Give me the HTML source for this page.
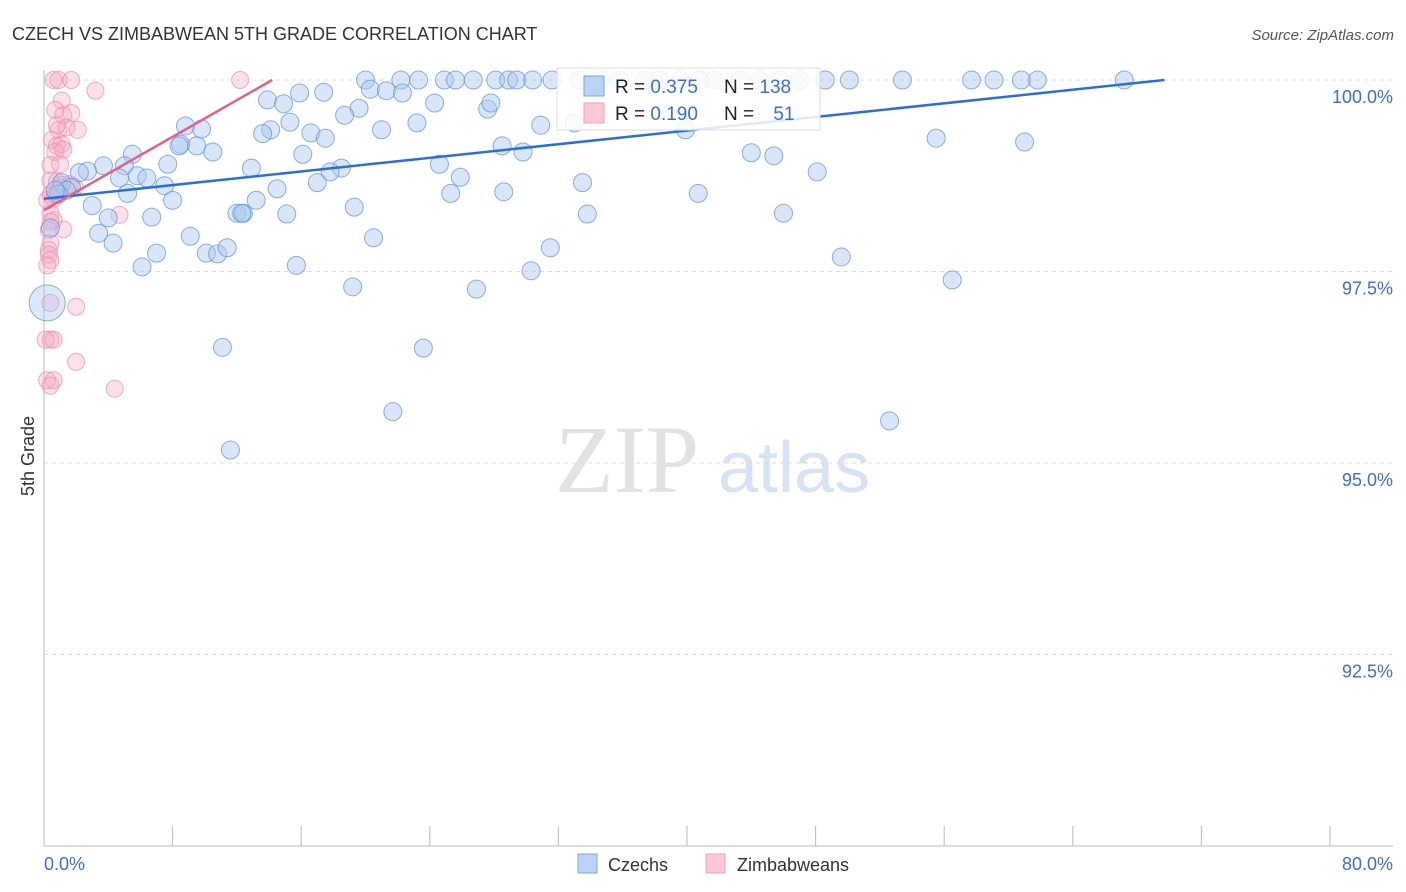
<!DOCTYPE html>
<html><head><meta charset="utf-8"><style>
body{margin:0;background:#fff;font-family:"Liberation Sans",sans-serif}
svg{display:block}
</style></head><body>
<svg id="chart" width="1406" height="892">
<text x="12" y="40" font-size="18" fill="#333">CZECH VS ZIMBABWEAN 5TH GRADE CORRELATION CHART</text>
<text x="1394" y="40" font-size="15" fill="#555" font-style="italic" text-anchor="end">Source: ZipAtlas.com</text>
<g>
<text x="555" y="492" font-size="96" font-family="Liberation Serif,serif" fill="#e2e2e2">ZIP</text>
<text x="718" y="492" font-size="72" fill="#d6e3f5">atlas</text>
</g>
<g id="grid"></g>
<g id="axes"></g>
<g id="pts"></g>
<g id="trend"></g>
<text transform="translate(34,456) rotate(-90)" font-size="18" fill="#333" text-anchor="middle">5th Grade</text>
<g>
<rect x="557" y="68" width="263" height="62" fill="#fff" fill-opacity="0.85" stroke="#ddd"/>
<rect x="584" y="76" width="20" height="20" fill="#b8d3f5" stroke="#7aa6e0"/>
<rect x="584" y="103" width="20" height="20" fill="#fbc8d6" stroke="#f0a0b8"/>
<text x="615" y="93" font-size="19" fill="#222">R = <tspan fill="#3a6fd0">0.375</tspan></text>
<text x="724" y="93" font-size="19" fill="#222">N = <tspan fill="#3a6fd0">138</tspan></text>
<text x="615" y="120" font-size="19" fill="#222">R = <tspan fill="#3a6fd0">0.190</tspan></text>
<text x="724" y="120" font-size="19" fill="#222">N = <tspan fill="#3a6fd0" dx="14">51</tspan></text>
</g>
<g>
<rect x="578" y="854" width="19" height="19" fill="#b8d3f5" stroke="#7aa6e0"/>
<text x="608" y="871" font-size="18" fill="#333">Czechs</text>
<rect x="706" y="854" width="19" height="19" fill="#fbc8d6" stroke="#f0a0b8"/>
<text x="737" y="871" font-size="18" fill="#333">Zimbabweans</text>
</g>
</svg>
<script>
const yTicks=[100,97.5,95,92.5];
const yTickLabels=["100.0%","97.5%","95.0%","92.5%"];
const xEnds=["0.0%","80.0%"];
const blueX=[20.0,22.2,23.3,24.9,25.6,26.7,28.1,28.9,29.4,30.4,31.6,33.3,34.6,35.8,37.4,38.3,39.6,40.8,41.7,43.3,44.5,45.8,47.0,48.6,50.1,53.4,57.7,59.1,60.8,61.8,67.2,
13.9,14.9,15.9,17.4,20.3,21.3,22.3,19.6,18.7,24.3,27.6,27.8,15.3,9.8,8.8,16.6,17.5,14.1,13.6,21.0,23.2,30.9,33.0,39.9,55.5,61.0,
8.5,8.4,9.5,10.5,16.1,5.5,28.5,29.8,44.0,45.4,3.7,5.0,7.7,12.9,18.5,17.8,24.6,25.9,48.1,2.7,2.2,4.7,5.8,6.4,7.5,1.1,1.7,1.4,5.2,8.0,14.5,17.0,33.5,28.6,25.3,40.7,3.0,0.9,13.2,19.3,6.7,4.0,12.0,12.4,12.3,15.1,33.8,46.0,3.4,4.3,9.1,20.5,10.1,10.8,11.4,7.0,6.1,15.7,31.5,49.6,30.3,19.2,26.9,56.5,11.1,23.6,21.7,52.6,11.6,0.7,0.4];
const blueY=[100,100,100,100,100,100,100,100,100,100,100,100,100,100,100,100,100,100,100,100,100,100,100,100,100,100,100,100,100,100,100,
99.74,99.69,99.83,99.84,99.88,99.86,99.83,99.63,99.54,99.70,99.62,99.70,99.45,99.36,99.40,99.31,99.24,99.35,99.30,99.35,99.44,99.41,99.44,99.35,99.24,99.19,
99.16,99.14,99.14,99.06,99.03,99.03,99.14,99.06,99.05,99.01,98.88,98.88,98.90,98.85,98.85,98.80,98.90,98.73,98.80,98.81,98.79,98.72,98.75,98.72,98.62,98.66,98.60,98.56,98.52,98.43,98.58,98.66,98.66,98.54,98.52,98.52,98.36,98.51,98.43,98.34,98.21,98.20,98.26,98.26,98.26,98.25,98.25,98.26,98.00,97.87,97.96,97.94,97.74,97.73,97.81,97.74,97.56,97.58,97.81,97.69,97.51,97.30,97.27,97.39,96.51,96.50,95.67,95.55,95.17,98.56,98.07];
const blueBigX=[0.2], blueBigY=[97.09];
const pinkX=[0.6,0.9,1.7,12.2,3.2,1.1,0.7,1.2,1.7,0.9,1.4,2.1,0.5,0.8,1.1,0.7,1.2,0.4,0.8,1.1,1.6,1.9,0.4,0.6,0.7,1.0,0.4,0.6,1.2,4.7,0.3,0.4,0.3,0.3,0.4,0.2,0.4,2.0,0.4,0.6,2.0,0.2,0.6,4.4,0.4,0.1,0.4,0.8,0.4,0.2,1.0];
const pinkY=[100,100,100,100,99.86,99.73,99.61,99.54,99.57,99.35,99.38,99.35,99.22,99.14,99.16,99.06,99.09,98.69,98.67,98.63,98.64,98.60,98.50,98.45,98.50,98.59,98.26,98.17,98.05,98.24,98.04,97.87,97.78,97.72,97.65,97.58,97.09,97.04,96.61,96.61,96.32,96.08,96.08,95.97,96.01,96.61,98.89,99.41,98.15,98.43,98.90];
const blueTrend=[[0,98.45],[69.7,100]];
const pinkTrend=[[0,98.3],[14.2,100]];
const X0=44,X1=1330,YT=80,YB=846;
const xs=v=>X0+v/80*(X1-X0);
const ys=v=>YT+(100-v)/10*(YB-YT);
const NS="http://www.w3.org/2000/svg";
function mk(tag,attrs,parent){const e=document.createElementNS(NS,tag);for(const k in attrs)e.setAttribute(k,attrs[k]);document.getElementById(parent).appendChild(e);return e;}
yTicks.forEach((t,i)=>{
 const l=mk('line',{x1:X0,x2:1393,y1:ys(t),y2:ys(t),stroke:'#ddd','stroke-dasharray':'4,4'},'grid');
 
 
 const tx=mk('text',{x:1393,y:ys(t)+23,'font-size':18,fill:'#3a6fd0','text-anchor':'end'},'grid');
 tx.textContent=yTickLabels[i];
 
 
});
const ax=mk('line',{x1:X0,x2:X0,y1:70,y2:YB,stroke:'#bbb'},'axes');


const bx=mk('line',{x1:X0,x2:1393,y1:YB,y2:YB,stroke:'#bbb'},'axes');


for(let i=0;i<=10;i++){const t=mk('line',{x1:xs(i*8),x2:xs(i*8),y1:826,y2:YB,stroke:'#bbb'},'axes');
 
 }
[[0,'start'],[80,'end']].forEach((a,i)=>{const t=mk('text',{x:i?1393:44,y:870,'font-size':18,fill:'#3a6fd0','text-anchor':a[1]},'axes');t.textContent=xEnds[i];
 
 });
pinkX.forEach((x,i)=>{const c=mk('circle',{cx:xs(x),cy:ys(pinkY[i]),r:8.5,fill:'#f7a8c0','fill-opacity':0.35,stroke:'#ee8aaa','stroke-opacity':0.7},'pts');
 
 });
blueX.forEach((x,i)=>{const c=mk('circle',{cx:xs(x),cy:ys(blueY[i]),r:9,fill:'#a8c8f0','fill-opacity':0.45,stroke:'#5b8fdb','stroke-opacity':0.7},'pts');
 
 });
blueBigX.forEach((x,i)=>{const c=mk('circle',{cx:xs(x),cy:ys(blueBigY[i]),r:18,fill:'#a8c8f0','fill-opacity':0.4,stroke:'#5b8fdb','stroke-opacity':0.7},'pts');
 
 });
const bl=mk('line',{x1:xs(blueTrend[0][0]),y1:ys(blueTrend[0][1]),x2:xs(blueTrend[1][0]),y2:ys(blueTrend[1][1]),stroke:'#2b6fd6','stroke-width':2.5},'trend');


const pl=mk('line',{x1:xs(pinkTrend[0][0]),y1:ys(pinkTrend[0][1]),x2:xs(pinkTrend[1][0]),y2:ys(pinkTrend[1][1]),stroke:'#e0608a','stroke-width':2.5},'trend');


</script>
</body></html>
